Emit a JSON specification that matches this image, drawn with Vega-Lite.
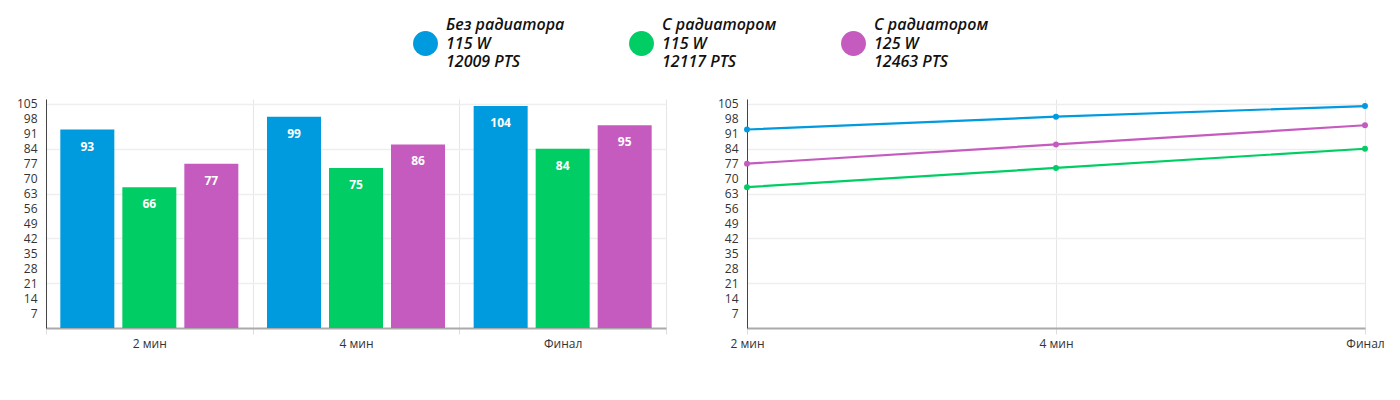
{
  "$schema": "https://vega.github.io/schema/vega-lite/v6.json",
  "padding": {"left": 16, "top": 31, "right": 10, "bottom": 5},
  "config": {
    "font": "Open Sans",
    "view": {"stroke": null},
    "style": {"guide-label": {"lineHeight": 18.5}},
    "axis": {
      "labelFont": "Open Sans", "labelFontSize": 12, "labelColor": "#333",
      "title": null
    },
    "legend": {
      "orient": "none", "legendX": 367, "legendY": -68, "direction": "horizontal",
      "title": null, "symbolType": "circle", "symbolSize": 620, "symbolStrokeWidth": 0,
      "symbolOpacity": 1,
      "labelFont": "Open Sans", "labelFontSize": 16, "labelFontStyle": "italic",
      "labelFontWeight": 600, "labelColor": "#111", "labelLimit": 300,
      "columnPadding": 64, "labelOffset": 8
    }
  },
  "datasets": {
    "scores": [
      {"t": "2 мин", "s": "Без радиатора|115 W|12009 PTS", "v": 93},
      {"t": "2 мин", "s": "С радиатором|115 W|12117 PTS", "v": 66},
      {"t": "2 мин", "s": "С радиатором|125 W|12463 PTS", "v": 77},
      {"t": "4 мин", "s": "Без радиатора|115 W|12009 PTS", "v": 99},
      {"t": "4 мин", "s": "С радиатором|115 W|12117 PTS", "v": 75},
      {"t": "4 мин", "s": "С радиатором|125 W|12463 PTS", "v": 86},
      {"t": "Финал", "s": "Без радиатора|115 W|12009 PTS", "v": 104},
      {"t": "Финал", "s": "С радиатором|115 W|12117 PTS", "v": 84},
      {"t": "Финал", "s": "С радиатором|125 W|12463 PTS", "v": 95}
    ]
  },
  "resolve": {"scale": {"color": "shared"}, "legend": {"color": "shared"}},
  "spacing": 50,
  "hconcat": [
    {
      "width": 620,
      "height": 229,
      "data": {"name": "scores"},
      "encoding": {
        "x": {
          "field": "t", "type": "nominal", "sort": null,
          "scale": {"paddingInner": 0, "paddingOuter": 0},
          "axis": {
            "labelAngle": 0, "tickBand": "extent", "grid": true,
            "gridColor": "#e6e6e6", "gridWidth": 1,
            "tickColor": "#dddddd", "tickSize": 6, "labelPadding": 4,
            "domainColor": "#aaaaaa", "domainWidth": 2
          }
        },
        "xOffset": {
          "field": "s", "type": "nominal", "sort": null,
          "scale": {"paddingInner": 0.129, "paddingOuter": 0.231}
        },
        "y": {
          "field": "v", "type": "quantitative",
          "scale": {"domain": [0, 107.3], "nice": false},
          "axis": {
            "values": [7, 14, 21, 28, 35, 42, 49, 56, 63, 70, 77, 84, 91, 98, 105],
            "ticks": false, "labelPadding": 9,
            "domainColor": "#444444", "domainWidth": 1,
            "grid": true, "gridWidth": 1.5,
            "gridColor": {"condition": {"test": "datum.value % 21 === 0", "value": "#eeeeee"}, "value": "transparent"}
          }
        }
      },
      "layer": [
        {
          "mark": {"type": "bar"},
          "encoding": {
            "color": {
              "field": "s", "type": "nominal", "sort": null,
              "scale": {
                "domain": ["Без радиатора|115 W|12009 PTS", "С радиатором|115 W|12117 PTS", "С радиатором|125 W|12463 PTS"],
                "range": ["#009ADF", "#00CE64", "#C55BBF"]
              },
              "legend": {
                "labelExpr": "split(datum.label, '|')",
                "encode": {"labels": {"update": {"dy": {"value": -18.5}}}}
              }
            }
          }
        },
        {
          "mark": {"type": "text", "color": "white", "fontWeight": "bold", "fontSize": 12, "baseline": "middle", "dy": 17},
          "encoding": {"text": {"field": "v", "type": "quantitative"}}
        }
      ]
    },
    {
      "width": 618,
      "height": 229,
      "data": {"name": "scores"},
      "encoding": {
        "x": {
          "field": "t", "type": "ordinal", "sort": null,
          "scale": {"type": "point", "padding": 0},
          "axis": {
            "labelAngle": 0, "grid": true, "gridColor": "#e6e6e6", "gridWidth": 1,
            "tickColor": "#dddddd", "tickSize": 6, "labelPadding": 4,
            "domainColor": "#aaaaaa", "domainWidth": 2
          }
        },
        "y": {
          "field": "v", "type": "quantitative",
          "scale": {"domain": [0, 107.3], "nice": false},
          "axis": {
            "values": [7, 14, 21, 28, 35, 42, 49, 56, 63, 70, 77, 84, 91, 98, 105],
            "ticks": false, "labelPadding": 9,
            "domainColor": "#444444", "domainWidth": 1,
            "grid": true, "gridWidth": 1.5,
            "gridColor": {"condition": {"test": "datum.value % 21 === 0", "value": "#eeeeee"}, "value": "transparent"}
          }
        },
        "color": {
          "field": "s", "type": "nominal", "sort": null,
          "scale": {
            "domain": ["Без радиатора|115 W|12009 PTS", "С радиатором|115 W|12117 PTS", "С радиатором|125 W|12463 PTS"],
            "range": ["#009ADF", "#00CE64", "#C55BBF"]
          },
          "legend": {
            "labelExpr": "split(datum.label, '|')",
            "encode": {"labels": {"update": {"dy": {"value": -18.5}}}}
          }
        }
      },
      "layer": [
        {"mark": {"type": "line", "strokeWidth": 2.2}},
        {"mark": {"type": "point", "filled": true, "size": 35, "opacity": 1}}
      ]
    }
  ]
}
